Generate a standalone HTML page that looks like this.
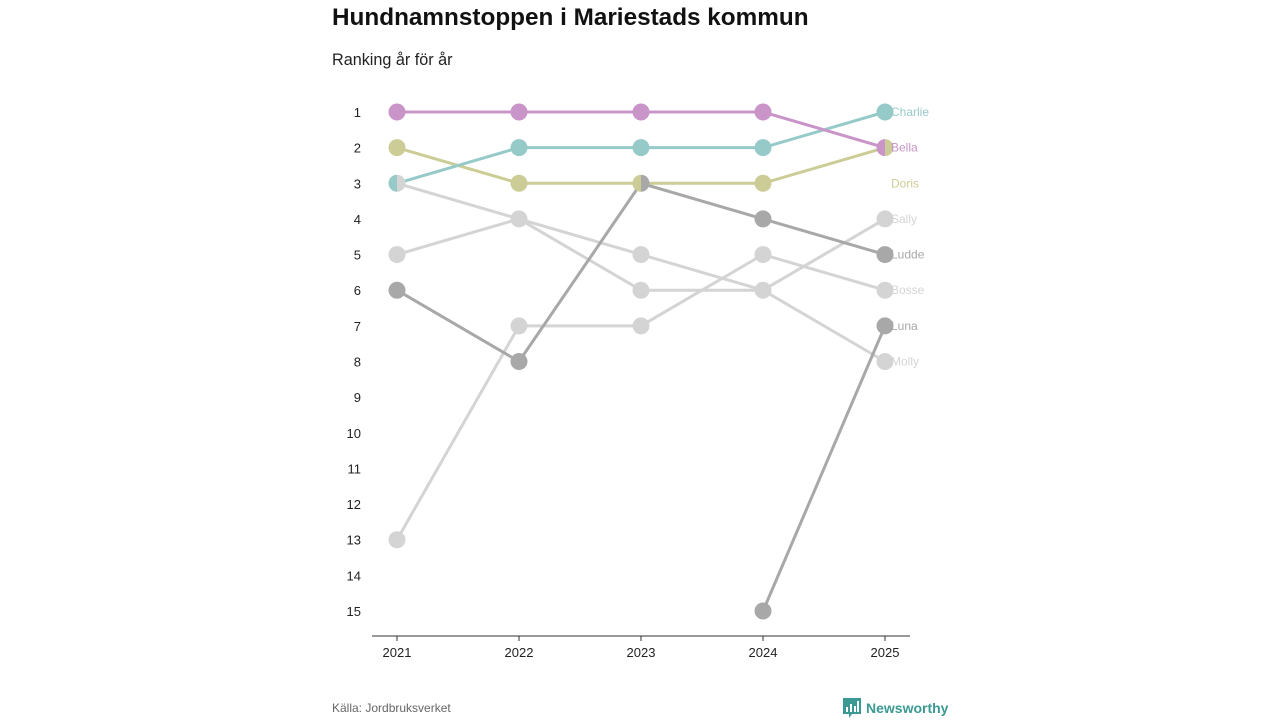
<!DOCTYPE html>
<html><head><meta charset="utf-8"><style>
body{margin:0;background:#fff;font-family:"Liberation Sans","DejaVu Sans",sans-serif}
#wrap{position:relative;width:1280px;height:720px;overflow:hidden}
h1{position:absolute;left:332px;top:4px;margin:0;font-size:24.3px;font-weight:bold;color:#111}
.sub{position:absolute;left:332px;top:51px;font-size:16.2px;color:#222}
.src{position:absolute;left:332px;top:701px;font-size:12px;color:#666}
.logo{position:absolute;left:843px;top:698px;font-size:14px;font-weight:bold;color:#3a9a93;display:flex;align-items:center;gap:5px}
</style></head><body>
<div id="wrap">
<h1>Hundnamnstoppen i Mariestads kommun</h1>
<div class="sub">Ranking år för år</div>
<svg id="chart" width="1280" height="720" style="position:absolute;left:0;top:0"></svg>
<div class="src">Källa: Jordbruksverket</div>
<div class="logo"><svg width="18" height="20" viewBox="0 0 18 20"><path d="M0 0h18v16H9l-3 4v-4H0z" fill="#3a9a93"/><rect x="3" y="9" width="2" height="5" fill="#fff"/><rect x="7" y="6" width="2" height="8" fill="#fff"/><rect x="11" y="8" width="2" height="6" fill="#fff"/><rect x="14" y="3" width="2" height="11" fill="#fff"/></svg>Newsworthy</div>
</div>
<script>
const years=[2021,2022,2023,2024,2025];
const names=["Bella","Charlie","Doris","Sally","Ludde","Bosse","Luna","Molly"];
const colors=["#c994c7","#96cac9","#cccc96","#d4d4d4","#a8a8a8","#d4d4d4","#a8a8a8","#d4d4d4"];
const bella=[1,1,1,1,2];
const charlie=[3,2,2,2,1];
const doris=[2,3,3,3,2];
const sally=[5,4,6,6,4];
const ludde=[6,8,3,4,5];
const bosse=[13,7,7,5,6];
const luna=[null,null,null,15,7];
const molly=[3,4,5,6,8];
const seriesVals=[bella,charlie,doris,sally,ludde,bosse,luna,molly];
const labelRanks=[2,1,3,4,5,6,7,8];
const rankTicks=[1,2,3,4,5,6,7,8,9,10,11,12,13,14,15];
const NS="http://www.w3.org/2000/svg";
const svg=document.getElementById('chart');
const x=i=>397+i*(885-397)/(years.length-1);
const y=r=>112+(r-1)*(611-112)/14;
function mk(t,a,p){const e=document.createElementNS(NS,t);for(const k in a)e.setAttribute(k,a[k]);(p||svg).appendChild(e);return e;}
rankTicks.forEach(r=>{const t=mk('text',{x:361,y:y(r)+5,'text-anchor':'end','font-size':13,fill:'#222'});t.textContent=r;

});
const ax=mk('line',{x1:372,x2:910,y1:636,y2:636,stroke:'#333','stroke-width':1});


years.forEach((yr,i)=>{mk('line',{x1:x(i),x2:x(i),y1:636,y2:641,stroke:'#333'});
const t=mk('text',{x:x(i),y:657,'text-anchor':'middle','font-size':13,fill:'#222'});t.textContent=yr;

});
const order=[3,5,7,4,6,2,1,0];
order.forEach(s=>{const v=seriesVals[s];let d='';v.forEach((r,i)=>{if(r==null)return;d+=(d?'L':'M')+x(i)+' '+y(r);});
const p=mk('path',{d:d,fill:'none',stroke:colors[s],'stroke-width':3});

});
const R=8.5;
years.forEach((yr,i)=>{const groups={};
order.forEach(s=>{const r=seriesVals[s][i];if(r==null)return;(groups[r]=groups[r]||[]).push(s);});
for(const r in groups){const g=groups[r];const cx=x(i),cy=y(+r);
if(g.length===1){const c=mk('circle',{cx:cx,cy:cy,r:R,fill:colors[g[0]]});

}
else{const a=g[g.length-1],b=g[0];
const l=mk('path',{d:`M${cx} ${cy-R}A${R} ${R} 0 0 0 ${cx} ${cy+R}Z`,fill:colors[a]});


const rr=mk('path',{d:`M${cx} ${cy-R}A${R} ${R} 0 0 1 ${cx} ${cy+R}Z`,fill:colors[b]});

}}});
names.forEach((n,s)=>{const t=mk('text',{x:891,y:y(labelRanks[s])+4,'font-size':12,fill:colors[s]});t.textContent=n;

});
</script>
</body></html>
